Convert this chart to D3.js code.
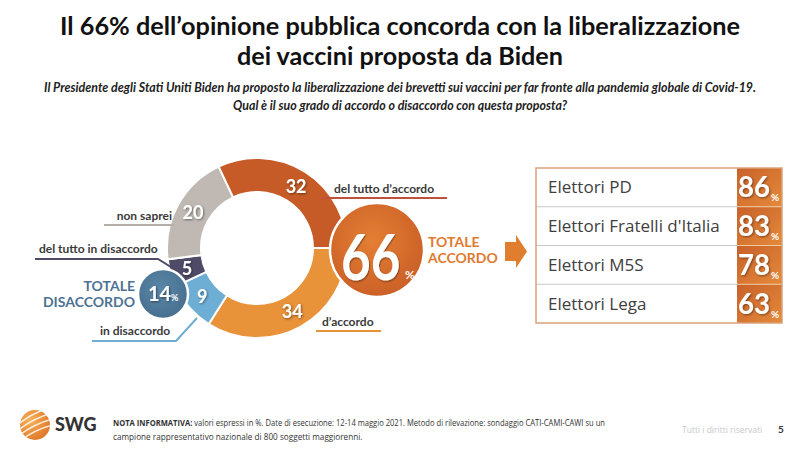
<!DOCTYPE html>
<html><head><meta charset="utf-8">
<script src="https://cdn.jsdelivr.net/npm/d3@7"></script>
<style>
html,body{margin:0;padding:0;background:#fff;}
svg{display:block;font-family:Lato,"Open Sans",sans-serif;}
</style></head>
<body>
<svg id="c" width="800" height="449"></svg>
<script>
// ---- data ----
const segLabels = ["d’accordo", "in disaccordo", "del tutto in disaccordo", "non saprei", "del tutto d’accordo"];
const segValues = [34, 9, 5, 20, 32];
const segColors = ["#e8923a", "#6eaed4", "#4f4a66", "#c0b9b3", "#c65b28"];
const totalAccordo = 66;
const totalDisaccordo = 14;
const groups = ["Elettori PD", "Elettori Fratelli d'Italia", "Elettori M5S", "Elettori Lega"];
const groupValues = [86, 83, 78, 63];

const svg = d3.select("#c");
const defs = svg.append("defs");

// gradients
const g1 = defs.append("radialGradient").attr("id","bigG").attr("cx","45%").attr("cy","40%").attr("r","65%");
g1.append("stop").attr("offset","0%").attr("stop-color","#e47f34");
g1.append("stop").attr("offset","100%").attr("stop-color","#c95e26");
const g2 = defs.append("radialGradient").attr("id","smallG").attr("cx","45%").attr("cy","40%").attr("r","65%");
g2.append("stop").attr("offset","0%").attr("stop-color","#5a87a8");
g2.append("stop").attr("offset","100%").attr("stop-color","#466d8c");
const g3 = defs.append("linearGradient").attr("id","cellG").attr("x1","0").attr("y1","0").attr("x2","1").attr("y2","1");
g3.append("stop").attr("offset","0%").attr("stop-color","#c9612a");
g3.append("stop").attr("offset","100%").attr("stop-color","#e48a3a");
const sh = defs.append("filter").attr("id","ts").attr("x","-20%").attr("y","-20%").attr("width","140%").attr("height","140%");
sh.append("feDropShadow").attr("dx",1).attr("dy",1).attr("stdDeviation",0.8).attr("flood-color","#000").attr("flood-opacity",0.45);

// ---- titles ----
const title = ["Il 66% dell’opinione pubblica concorda con la liberalizzazione", "dei vaccini proposta da Biden"];
const titleW = [680, 326];
svg.selectAll("text.title").data(title).join("text")
  .attr("x",400).attr("y",(d,i)=>35+i*30).attr("text-anchor","middle")
  .attr("font-size",25.5).attr("font-weight",700).attr("fill","#111")
  .attr("textLength",(d,i)=>titleW[i]).attr("lengthAdjust","spacingAndGlyphs")
  .text(d=>d);
const sub = ["Il Presidente degli Stati Uniti Biden ha proposto la liberalizzazione dei brevetti sui vaccini per far fronte alla pandemia globale di Covid-19.",
             "Qual è il suo grado di accordo o disaccordo con questa proposta?"];
const subW = [712, 334];
svg.selectAll("text.sub").data(sub).join("text")
  .attr("x",400).attr("y",(d,i)=>92+i*18).attr("text-anchor","middle")
  .attr("font-size",12.5).attr("font-weight",700).attr("font-style","italic").attr("fill","#222")
  .attr("textLength",(d,i)=>subW[i]).attr("lengthAdjust","spacingAndGlyphs")
  .text(d=>d);

// ---- donut ----
const cx = 257, cy = 248, rIn = 56, rOut = 90;
const pie = d3.pie().sort(null).startAngle(Math.PI/2).endAngle(Math.PI/2 + 2*Math.PI);
const arcs = pie(segValues);
const arc = d3.arc().innerRadius(rIn).outerRadius(rOut);
const dg = svg.append("g").attr("transform",`translate(${cx},${cy})`);
dg.selectAll("path").data(arcs).join("path")
  .attr("d",arc).attr("fill",(d,i)=>segColors[i]).attr("stroke","#fff").attr("stroke-width",2);

// leader lines + labels
const lab = [
  {tx:322, ty:326, anchor:"start", line:[[316,331],[381,331]]},
  {tx:100, ty:335, anchor:"start", line:[[92,341],[176,341],[197,318]]},
  {tx:39,  ty:253, anchor:"start", line:[[35,259],[158,259],[182,274]]},
  {tx:172, ty:220, anchor:"end",   line:[[104,225],[174,225]]},
  {tx:334, ty:193, anchor:"start", line:[[322,198],[447,198]]}
];
const lineColors = ["#e8923a","#6eaed4","#4f4a66","#b5afa9","#c0503a"];
const lg = svg.append("g");
lg.selectAll("path").data(lab).join("path")
  .attr("d",d=>d3.line()(d.line)).attr("fill","none")
  .attr("stroke",(d,i)=>lineColors[i]).attr("stroke-width",2);
lg.selectAll("text").data(lab).join("text")
  .attr("x",d=>d.tx).attr("y",d=>d.ty).attr("text-anchor",d=>d.anchor)
  .attr("font-size",12).attr("font-weight",700).attr("fill","#3a3a3a")
  .text((d,i)=>segLabels[i]);

// value labels in segments
const valPos = d3.arc().innerRadius((rIn+rOut)/2).outerRadius((rIn+rOut)/2);
dg.selectAll("text").data(arcs).join("text")
  .attr("transform",(d,i)=>{const c = valPos.centroid(d); return `translate(${c[0]},${c[1]})`;})
  .attr("text-anchor","middle").attr("dy","0.36em")
  .attr("font-size",18).attr("font-weight",700).attr("fill","#fff").attr("filter","url(#ts)")
  .text(d=>d.data);

// big circle total agreement
const bx = 377, by = 250, br = 47;
svg.append("circle").attr("cx",bx).attr("cy",by).attr("r",br).attr("fill","url(#bigG)").attr("stroke","#fff").attr("stroke-width",2.5);
svg.append("text").attr("transform",`translate(${bx-36},${by+30}) scale(0.8,1)`)
  .attr("font-size",64).attr("font-weight",700).attr("fill","#fff").attr("filter","url(#ts)")
  .text(totalAccordo);
svg.append("text").attr("x",bx+28).attr("y",by+29).attr("font-size",12).attr("font-weight",700).attr("fill","#fff").text("%");
svg.append("text").attr("x",428).attr("y",247).attr("font-size",14).attr("font-weight",700).attr("fill","#e07a2e").text("TOTALE");
svg.append("text").attr("x",428).attr("y",263).attr("font-size",14).attr("font-weight",700).attr("fill","#e07a2e").text("ACCORDO");

// small circle total disagreement
const sx = 163, sy = 294, sr = 25;
svg.append("circle").attr("cx",sx).attr("cy",sy).attr("r",sr).attr("fill","url(#smallG)").attr("stroke","#fff").attr("stroke-width",2.5);
svg.append("text").attr("x",sx-15).attr("y",sy+7).attr("font-size",20).attr("font-weight",700).attr("fill","#fff")
  .attr("filter","url(#ts)").text(totalDisaccordo);
svg.append("text").attr("x",sx+8).attr("y",sy+7).attr("font-size",9).attr("font-weight",700).attr("fill","#fff").text("%");
svg.append("text").attr("x",135).attr("y",291).attr("text-anchor","end").attr("font-size",14).attr("font-weight",700).attr("fill","#4d7293").text("TOTALE");
svg.append("text").attr("x",135).attr("y",307).attr("text-anchor","end").attr("font-size",14).attr("font-weight",700).attr("fill","#4d7293").text("DISACCORDO");

// arrow
svg.append("path").attr("d","M505,242 L516,242 L516,235 L527,251.5 L516,268 L516,261 L505,261 Z").attr("fill","#e07d2e");

// ---- table ----
const tx0 = 536, tx1 = 782, tvx = 737;
const ty = d3.scaleBand().domain(groups).range([168,323]);
const tg = svg.append("g");
tg.selectAll("rect.cell").data(groups).join("rect")
  .attr("x",tvx).attr("y",d=>ty(d)).attr("width",tx1-tvx).attr("height",ty.bandwidth())
  .attr("fill","url(#cellG)");
tg.selectAll("line.sep").data(groups.slice(1)).join("line")
  .attr("x1",tx0).attr("x2",tvx).attr("y1",d=>ty(d)).attr("y2",d=>ty(d))
  .attr("stroke","#c9c9c9").attr("stroke-width",1);
tg.selectAll("line.sep2").data(groups.slice(1)).join("line")
  .attr("x1",tvx).attr("x2",tx1).attr("y1",d=>ty(d)).attr("y2",d=>ty(d))
  .attr("stroke","#f0c9a0").attr("stroke-width",1);
tg.append("rect").attr("x",tx0).attr("y",168).attr("width",tx1-tx0).attr("height",155)
  .attr("fill","none").attr("stroke","#d9a27a").attr("stroke-width",1.5);
tg.selectAll("text.name").data(groups).join("text")
  .attr("x",548).attr("y",d=>ty(d)+ty.bandwidth()/2+6)
  .attr("font-family","'Open Sans',Lato,sans-serif")
  .attr("font-size",17).attr("fill","#404040").text(d=>d);
tg.selectAll("text.val").data(groupValues).join("text")
  .attr("x",738).attr("y",(d,i)=>ty(groups[i])+ty.bandwidth()/2+10)
  .attr("font-size",28).attr("font-weight",700).attr("fill","#fff").attr("filter","url(#ts)")
  .attr("textLength",32).attr("lengthAdjust","spacingAndGlyphs")
  .text(d=>d);
tg.selectAll("text.pc").data(groupValues).join("text")
  .attr("x",771).attr("y",(d,i)=>ty(groups[i])+ty.bandwidth()/2+14)
  .attr("font-size",10).attr("font-weight",700).attr("fill","#fff").text("%");

// ---- footer ----
const logoG = svg.append("g").attr("transform","translate(35,425)");
const lgG = defs.append("radialGradient").attr("id","logoG").attr("cx","35%").attr("cy","35%").attr("r","70%");
lgG.append("stop").attr("offset","0%").attr("stop-color","#f6b25a");
lgG.append("stop").attr("offset","100%").attr("stop-color","#e0782a");
logoG.append("circle").attr("r",15).attr("fill","url(#logoG)");
const clip = defs.append("clipPath").attr("id","logoClip");
clip.append("circle").attr("r",15);
logoG.append("g").attr("clip-path","url(#logoClip)").selectAll("path").data([-8,-2,4,10]).join("path")
  .attr("d",d=>`M-18,${d+8} Q0,${d-6} 18,${d-10}`).attr("fill","none").attr("stroke","#fff").attr("stroke-width",1.6).attr("opacity",0.85);
svg.append("text").attr("x",55).attr("y",431).attr("font-size",18).attr("font-weight",900).attr("fill","#333")
  .attr("font-family","Lato,sans-serif").text("SWG");

const note1 = svg.append("text").attr("x",113).attr("y",426).attr("font-size",8.2).attr("fill","#333")
  .attr("font-family","'Open Sans',sans-serif");
note1.append("tspan").attr("font-weight",700).text("NOTA INFORMATIVA: ");
note1.append("tspan").text("valori espressi in %. Date di esecuzione: 12-14 maggio 2021. Metodo di rilevazione: sondaggio CATI-CAMI-CAWI su un");
note1.attr("textLength",492).attr("lengthAdjust","spacingAndGlyphs");
svg.append("text").attr("x",113).attr("y",440).attr("font-size",8.2).attr("fill","#333")
  .attr("font-family","'Open Sans',sans-serif").text("campione rappresentativo nazionale di 800 soggetti maggiorenni.");
svg.append("text").attr("x",682).attr("y",433).attr("font-size",8.5).attr("fill","#c8c8c8")
  .attr("font-family","'Open Sans',sans-serif").text("Tutti i diritti riservati");
svg.append("text").attr("x",778).attr("y",433).attr("font-size",10).attr("font-weight",700).attr("fill","#333").text("5");
</script>
</body></html>
